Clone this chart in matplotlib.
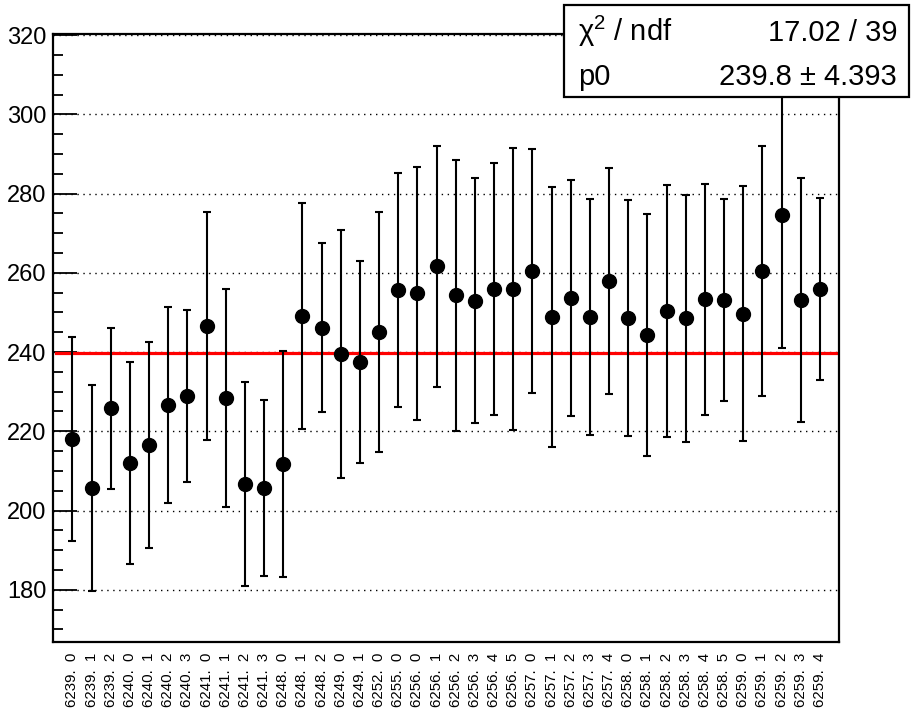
import matplotlib
matplotlib.use("Agg")
import matplotlib.pyplot as plt
from matplotlib.patches import Rectangle
import numpy as np

plt.rcParams['font.family'] = ['Liberation Sans', 'DejaVu Sans']
plt.rcParams['mathtext.fontset'] = 'custom'
plt.rcParams['mathtext.rm'] = 'Liberation Sans'
plt.rcParams['mathtext.default'] = 'regular'

# run.subrun bin labels
labels = [
    "6239.  0", "6239.  1", "6239.  2", "6240.  0", "6240.  1", "6240.  2",
    "6240.  3", "6241.  0", "6241.  1", "6241.  2", "6241.  3", "6248.  0",
    "6248.  1", "6248.  2", "6249.  0", "6249.  1", "6252.  0", "6255.  0",
    "6256.  0", "6256.  1", "6256.  2", "6256.  3", "6256.  4", "6256.  5",
    "6257.  0", "6257.  1", "6257.  2", "6257.  3", "6257.  4", "6258.  0",
    "6258.  1", "6258.  2", "6258.  3", "6258.  4", "6258.  5", "6259.  0",
    "6259.  1", "6259.  2", "6259.  3", "6259.  4",
]

values = [
    218.1, 205.7, 225.8, 212.0, 216.6, 226.7, 228.9, 246.6, 228.4, 206.7,
    205.7, 211.7, 249.2, 246.2, 239.5, 237.5, 245.0, 255.7, 254.8, 261.6,
    254.3, 253.0, 256.0, 255.9, 260.5, 248.8, 253.7, 248.9, 257.9, 248.5,
    244.3, 250.4, 248.5, 253.3, 253.1, 249.7, 260.4, 274.6, 253.2, 255.9,
]

errors = [
    25.7, 26.1, 20.3, 25.4, 26.0, 24.8, 21.8, 28.8, 27.5, 25.8,
    22.3, 28.6, 28.5, 21.4, 31.2, 25.4, 30.3, 29.6, 31.9, 30.5,
    34.3, 31.0, 31.8, 35.6, 30.8, 32.8, 29.8, 29.8, 28.5, 29.8,
    30.6, 31.8, 31.2, 29.2, 25.5, 32.2, 31.5, 33.6, 30.8, 22.9,
]

# constant fit result
fit_p0 = 239.8
fit_p0_err = 4.393
chi2 = 17.02
ndf = 39

x = np.arange(len(values))

fig = plt.figure(figsize=(9.22, 7.18), dpi=100)
ax = fig.add_axes([0.0578, 0.1063, 0.9100 - 0.0578, 0.9533 - 0.1063])

# dotted horizontal grid
ax.set_axisbelow(True)
ax.yaxis.grid(True, which='major', color='black', linestyle=(0, (1, 3.3)), linewidth=1.0)

ax.errorbar(x, values, yerr=errors, fmt='o', color='black', markersize=10,
            elinewidth=1.5, capsize=2.6, capthick=1.5, zorder=3)

ax.axhline(fit_p0, xmin=0.004, xmax=0.996, color='#ff0000', linewidth=2.3, zorder=2)

ax.set_xlim(-1.0, 40.0)
ax.set_ylim(166.9, 320.4)

ax.set_yticks(np.arange(180, 321, 20))
ax.set_yticks(np.arange(170, 321, 5), minor=True)
ax.tick_params(axis='y', which='major', direction='in', length=17, width=1.3,
               labelsize=17, pad=5)
ax.tick_params(axis='y', which='minor', direction='in', length=7.5, width=1.3)

ax.set_xticks(x)
ax.set_xticklabels(labels, rotation=90, fontsize=10.8)
ax.tick_params(axis='x', length=0, pad=8)

for s in ax.spines.values():
    s.set_linewidth(1.6)

# statistics box
fig.patches.append(Rectangle((0.6117, 0.8645), 0.9859 - 0.6117, 0.993 - 0.8645,
                             transform=fig.transFigure, facecolor='white',
                             edgecolor='black', linewidth=1.6, zorder=5))
fig.text(0.627, 0.9429, "χ$^{2}$ / ndf", fontsize=21, va='baseline', ha='left', zorder=6)
fig.text(0.9729, 0.9429, f"{chi2:.2f} / {ndf}", fontsize=21, va='baseline', ha='right', zorder=6)
fig.text(0.627, 0.8816, "p0", fontsize=21, va='baseline', ha='left', zorder=6)
fig.text(0.9729, 0.8816, f"{fit_p0:.1f} ± {fit_p0_err:.3f}", fontsize=21,
         va='baseline', ha='right', zorder=6)

fig.savefig("out.png", dpi=100, facecolor='white')
